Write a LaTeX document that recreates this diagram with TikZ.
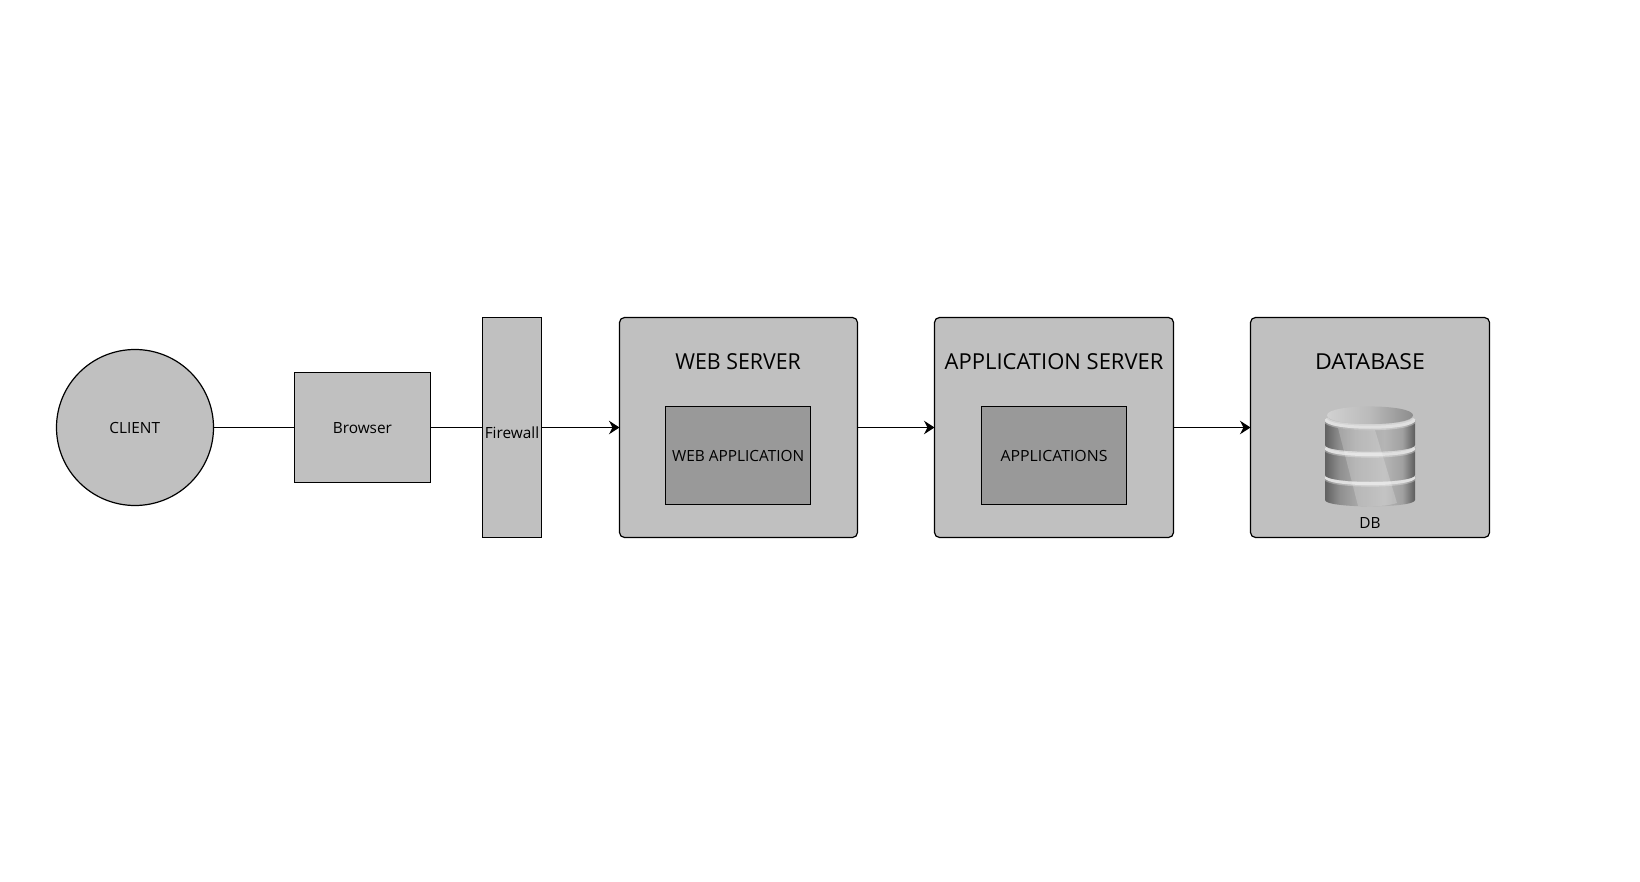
\documentclass[tikz,border=0pt]{standalone}
\usepackage{fontspec}
\setmainfont{Open Sans}
\usetikzlibrary{arrows.meta,shapes.geometric}
\definecolor{boxgray}{HTML}{C0C0C0}
\definecolor{innergray}{HTML}{999999}
\pgfdeclarehorizontalshading{dbband}{100bp}{color(0bp)=(black!62);color(25bp)=(black!62);color(33bp)=(black!44);color(42bp)=(black!35);color(58bp)=(black!29);color(68bp)=(black!37);color(75bp)=(black!64);color(100bp)=(black!64)}
\pgfdeclarehorizontalshading{dbtop}{100bp}{color(0bp)=(black!18);color(25bp)=(black!18);color(50bp)=(black!27);color(75bp)=(black!45);color(100bp)=(black!45)}
\tikzset{
  shapebox/.style={draw=black,line width=1.2pt,fill=boxgray,inner sep=0pt,outer sep=0pt,anchor=center},
  serverbox/.style={shapebox,rounded corners=5pt},
  innerbox/.style={shapebox,fill=innergray},
  smalltext/.style={inner sep=0pt,outer sep=0pt,font=\fontsize{15.4}{18}\selectfont},
  titletext/.style={inner sep=0pt,outer sep=0pt,font=\fontsize{22}{26}\selectfont},
  plainlink/.style={draw=black,line width=1.2pt},
  arrowlink/.style={plainlink,-{Stealth[length=10.5pt,width=13.5pt,inset=3.5pt]}},
  rimglow/.style={draw=white,opacity=.3,line width=6pt},
  rim/.style={draw=black!12,line width=3pt}
}
\begin{document}
\begin{tikzpicture}[x=1pt,y=-1pt]
\useasboundingbox (0,0) rectangle (1640,882);
\fill[white] (0,0) rectangle (1640,882);

\node[shapebox,ellipse,minimum width=157pt,minimum height=156pt] (client) at (135,427.5) {};
\node[shapebox,minimum width=136pt,minimum height=110pt] (browser) at (362.5,427.5) {};
\node[shapebox,minimum width=59pt,minimum height=220pt] (firewall) at (512,427.5) {};
\node[serverbox,minimum width=238pt,minimum height=220pt] (web) at (738.5,427.5) {};
\node[serverbox,minimum width=239pt,minimum height=220pt] (app) at (1054,427.5) {};
\node[serverbox,minimum width=239pt,minimum height=220pt] (db) at (1370,427.5) {};
\node[innerbox,minimum width=145pt,minimum height=98pt] (webapp) at (738,455.5) {};
\node[innerbox,minimum width=145pt,minimum height=98pt] (apps) at (1054,455.5) {};

\draw[plainlink] (client.east) -- (browser.west);
\draw[plainlink] (browser.east) -- (firewall.west);
\draw[arrowlink] (firewall.east) -- (web.west);
\draw[arrowlink] (web.east) -- (app.west);
\draw[arrowlink] (app.east) -- (db.west);

\node[smalltext] (clienttext) at (134.7,428) {CLIENT};
\node[smalltext] (browsertext) at (362.4,428.3) {Browser};
\node[smalltext] (firewalltext) at (512,432.8) {Firewall};
\node[titletext] (webtitle) at (738.1,362) {\addfontfeature{FakeStretch=0.97}WEB SERVER};
\node[titletext] (apptitle) at (1054.1,362) {APPLICATION SERVER};
\node[titletext] (dbtitle) at (1370,362) {\addfontfeature{FakeStretch=1.05}DATABASE};
\node[smalltext] (webapptext) at (738.1,456.3) {WEB APPLICATION};
\node[smalltext] (appstext) at (1054,456.3) {\addfontfeature{FakeStretch=1.03}APPLICATIONS};
\node[smalltext] (dbtext) at (1370,523.2) {DB};

% database icon
\shade[shading=dbband] (1325,476) -- (1325,500) .. controls (1325,508.5) and (1415,508.5) .. (1415,500) -- (1415,476) .. controls (1415,484) and (1325,484) .. cycle;
\begin{scope}
\clip (1325,460) rectangle (1415,495);
\draw[rimglow] (1325.5,476.5) .. controls (1325.5,486) and (1414.5,486) .. (1414.5,476.5);
\draw[rim] (1325.5,476.5) .. controls (1325.5,486) and (1414.5,486) .. (1414.5,476.5);
\end{scope}
\shade[shading=dbband] (1325,447) -- (1325,475) .. controls (1325,484) and (1415,484) .. (1415,475) -- (1415,447) .. controls (1415,455) and (1325,455) .. cycle;
\begin{scope}
\clip (1325,430) rectangle (1415,465);
\draw[rimglow] (1325.5,447.5) .. controls (1325.5,457) and (1414.5,457) .. (1414.5,447.5);
\draw[rim] (1325.5,447.5) .. controls (1325.5,457) and (1414.5,457) .. (1414.5,447.5);
\end{scope}
\shade[shading=dbband] (1325,420) -- (1325,445) .. controls (1325,454) and (1415,454) .. (1415,445) -- (1415,420) .. controls (1415,430) and (1325,430) .. cycle;
\shade[shading=dbtop] (1327,415.3) .. controls (1327,403.5) and (1413,403.5) .. (1413,415.3) .. controls (1413,427) and (1327,427) .. cycle;
\begin{scope}
\clip (1325,405) rectangle (1415,435);
\draw[rimglow] (1325.5,419) .. controls (1325.5,430) and (1414.5,430) .. (1414.5,419);
\draw[rim] (1325.5,419) .. controls (1325.5,430) and (1414.5,430) .. (1414.5,419);
\end{scope}
\fill[white,opacity=.2] (1338,428) -- (1358,505.8) .. controls (1372,507) and (1388,506) .. (1397,503) -- (1375,430) .. controls (1362,430.5) and (1350,430) .. cycle;
\end{tikzpicture}
\end{document}
